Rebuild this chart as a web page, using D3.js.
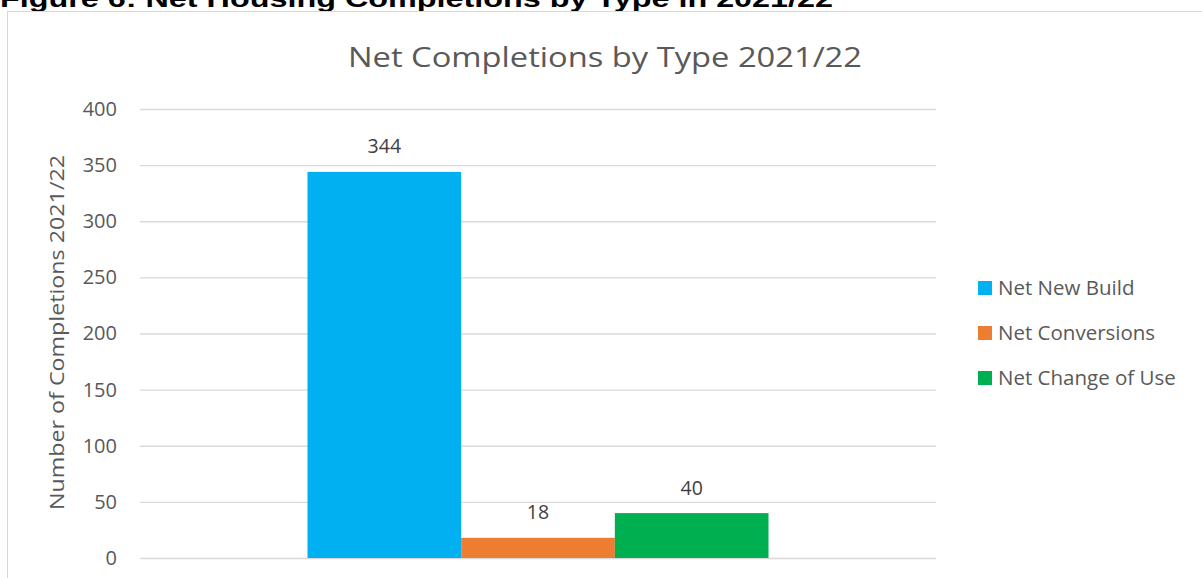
<!DOCTYPE html>
<html><head><meta charset="utf-8">
<script src="https://cdn.jsdelivr.net/npm/d3@7"></script>
<style>html,body{margin:0;padding:0;background:#fff;overflow:hidden}</style>
</head><body>
<svg id="c" width="1202" height="578"></svg>
<script>
const categories = ["2021/22"];
const seriesNames = ["Net New Build", "Net Conversions", "Net Change of Use"];
const seriesValues = [344, 18, 40];
const seriesColors = ["#00B0F0", "#ED7D31", "#00B050"];
const yTicks = [0, 50, 100, 150, 200, 250, 300, 350, 400];

(function () {
const svg = d3.select("#c");
const font = "'Open Sans', Lato, sans-serif";

// figure caption (cut off at top, as in the source)
svg.append("text").attr("x", 0).attr("y", 7)
  .attr("font-family", "'Liberation Sans', Arial, sans-serif").attr("font-weight", "bold")
  .attr("font-size", 23).attr("fill", "#000")
  .attr("textLength", 833).attr("lengthAdjust", "spacingAndGlyphs")
  .text("Figure 6: Net Housing Completions by Type in 2021/22");

// chart border
svg.append("rect").attr("x", 7.5).attr("y", 11.5).attr("width", 1210).attr("height", 600)
  .attr("fill", "none").attr("stroke", "#D9D9D9").attr("stroke-width", 1);

// title
svg.append("text").attr("x", 605).attr("y", 67).attr("text-anchor", "middle")
  .attr("font-family", font).attr("font-size", 28).attr("fill", "#595959")
  .attr("textLength", 514).attr("lengthAdjust", "spacingAndGlyphs")
  .text("Net Completions by Type 2021/22");

const pLeft = 140, pRight = 936, pTop = 109, pBottom = 558;
const y = d3.scaleLinear().domain([0, 400]).range([pBottom, pTop]);
const x0 = d3.scaleBand().domain(categories).range([pLeft, pRight]).paddingInner(0).paddingOuter(0.3633);
const x1 = d3.scaleBand().domain(seriesNames).range([0, x0.bandwidth()]).padding(0);

// gridlines + tick labels
const yAxis = d3.axisLeft(y).tickValues(yTicks).tickSize(-(pRight - pLeft)).tickPadding(23);
const ga = svg.append("g").attr("transform", `translate(${pLeft},0)`).call(yAxis);
ga.select(".domain").remove();
ga.selectAll(".tick line").attr("stroke", "#D9D9D9").attr("stroke-width", 1.3);
ga.selectAll(".tick text").attr("font-family", font).attr("font-size", 20).attr("fill", "#595959");

// bars
const data = seriesNames.map((n, i) => ({ name: n, value: seriesValues[i], color: seriesColors[i], cat: categories[0] }));
svg.append("g").selectAll("rect").data(data).join("rect")
  .attr("x", d => x0(d.cat) + x1(d.name))
  .attr("y", d => y(d.value))
  .attr("width", x1.bandwidth())
  .attr("height", d => y(0) - y(d.value))
  .attr("fill", d => d.color);

// data labels
svg.append("g").selectAll("text").data(data).join("text")
  .attr("x", d => x0(d.cat) + x1(d.name) + x1.bandwidth() / 2)
  .attr("y", d => y(d.value) - 18.5)
  .attr("text-anchor", "middle")
  .attr("font-family", font).attr("font-size", 19.5).attr("fill", "#404040")
  .text(d => d.value);

// y axis title
svg.append("text")
  .attr("transform", `translate(63.5,${(pTop + pBottom) / 2 - 1}) rotate(-90)`)
  .attr("text-anchor", "middle")
  .attr("font-family", font).attr("font-size", 20.5).attr("fill", "#595959")
  .attr("textLength", 355).attr("lengthAdjust", "spacingAndGlyphs")
  .text("Number of Completions 2021/22");

// legend
const lg = svg.append("g").selectAll("g").data(data).join("g")
  .attr("transform", (d, i) => `translate(978,${288 + i * 45})`);
lg.append("rect").attr("x", 0).attr("y", -7).attr("width", 14).attr("height", 14).attr("fill", d => d.color);
lg.append("text").attr("x", 20).attr("y", 7)
  .attr("font-family", font).attr("font-size", 20.5).attr("fill", "#595959")
  .text(d => d.name);
})();
</script>
</body></html>
